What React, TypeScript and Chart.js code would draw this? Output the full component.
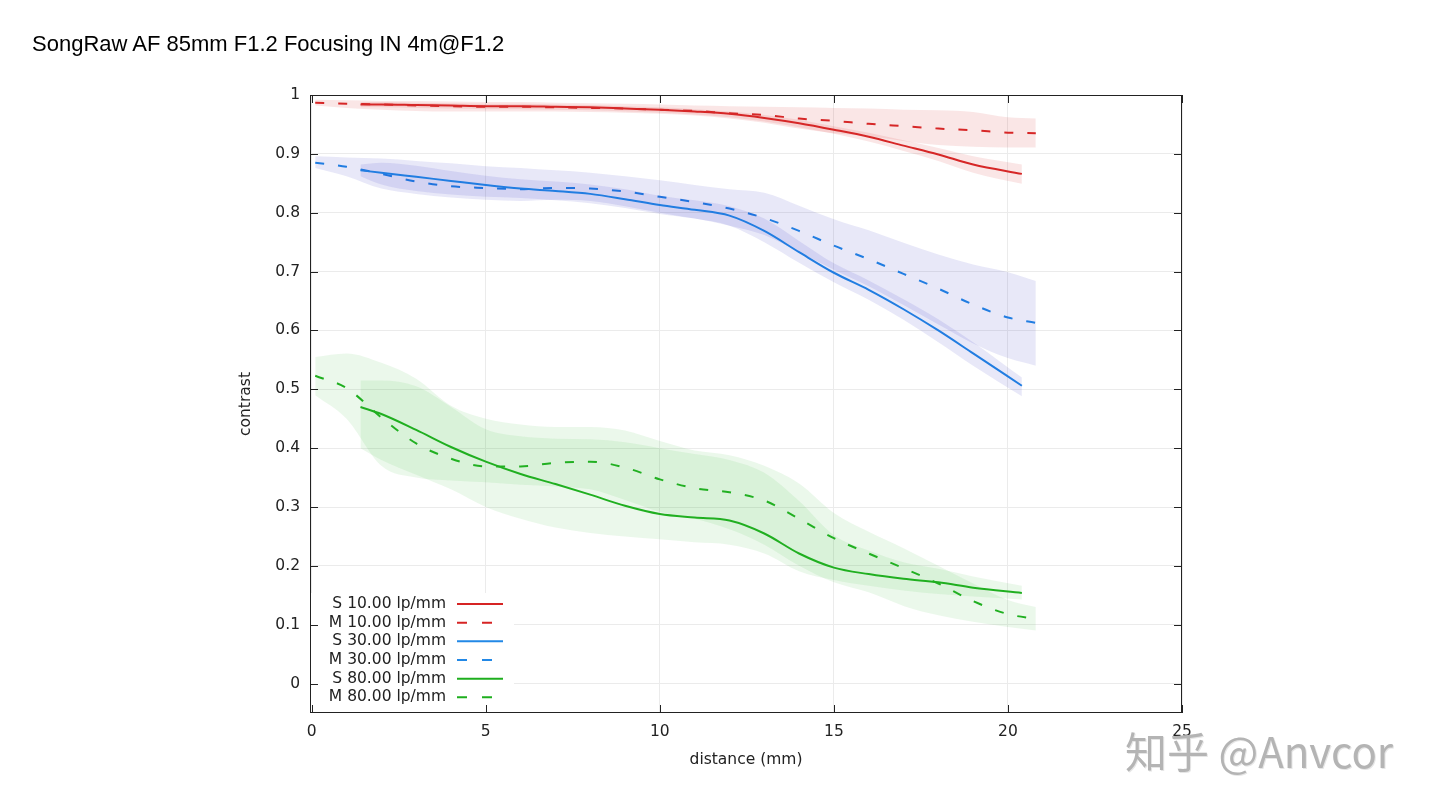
import { useEffect, useRef } from 'react';
import { Chart, registerables } from 'chart.js';

Chart.register(...registerables);

const TITLE = 'SongRaw AF 85mm F1.2 Focusing IN 4m@F1.2';
const X_TITLE = 'distance (mm)';
const Y_TITLE = 'contrast';

const xTicks = [0, 5, 10, 15, 20, 25];
const yTicks = [0, 0.1, 0.2, 0.3, 0.4, 0.5, 0.6, 0.7, 0.8, 0.9, 1];

// sagittal series sample positions (mm)
const sX = [1.4, 2, 3, 4, 5, 6, 7, 8, 9, 10, 11, 12, 13, 14, 15, 16, 17, 18, 19, 20.4];
// meridional series sample positions (mm)
const mX = [0.1, 1, 2, 3, 4, 5, 6, 7, 8, 9, 10, 11, 12, 13, 14, 15, 16, 17, 18, 19, 20, 20.8];

// 10 lp/mm
const s10 = [0.984, 0.984, 0.983, 0.982, 0.981, 0.981, 0.980, 0.979, 0.977, 0.975, 0.972, 0.968, 0.961, 0.952, 0.941, 0.929, 0.914, 0.899, 0.882, 0.866];
const s10Hi = [0.988, 0.988, 0.987, 0.986, 0.985, 0.985, 0.984, 0.983, 0.981, 0.979, 0.976, 0.972, 0.966, 0.958, 0.947, 0.936, 0.923, 0.910, 0.896, 0.882];
const s10Lo = [0.979, 0.979, 0.978, 0.977, 0.976, 0.976, 0.975, 0.974, 0.972, 0.970, 0.967, 0.962, 0.955, 0.945, 0.934, 0.921, 0.905, 0.888, 0.868, 0.849];
const m10 = [0.987, 0.985, 0.984, 0.982, 0.981, 0.980, 0.980, 0.979, 0.978, 0.977, 0.975, 0.973, 0.969, 0.966, 0.960, 0.956, 0.951, 0.947, 0.943, 0.940, 0.936, 0.935];
const m10Hi = [0.992, 0.991, 0.990, 0.990, 0.989, 0.988, 0.988, 0.987, 0.986, 0.985, 0.984, 0.982, 0.981, 0.980, 0.979, 0.978, 0.977, 0.975, 0.974, 0.971, 0.962, 0.960];
const m10Lo = [0.982, 0.978, 0.975, 0.973, 0.972, 0.972, 0.972, 0.972, 0.971, 0.970, 0.968, 0.965, 0.960, 0.953, 0.943, 0.935, 0.930, 0.922, 0.915, 0.912, 0.911, 0.911];

// 30 lp/mm
const s30 = [0.872, 0.868, 0.861, 0.854, 0.847, 0.841, 0.837, 0.832, 0.823, 0.813, 0.805, 0.795, 0.769, 0.733, 0.698, 0.669, 0.636, 0.600, 0.561, 0.506];
const s30Hi = [0.882, 0.885, 0.880, 0.871, 0.863, 0.857, 0.853, 0.848, 0.840, 0.829, 0.821, 0.811, 0.790, 0.752, 0.714, 0.685, 0.653, 0.619, 0.580, 0.520];
const s30Lo = [0.862, 0.848, 0.837, 0.831, 0.827, 0.825, 0.821, 0.816, 0.808, 0.798, 0.790, 0.778, 0.750, 0.715, 0.682, 0.652, 0.618, 0.580, 0.540, 0.488];
const m30 = [0.885, 0.878, 0.866, 0.853, 0.845, 0.842, 0.840, 0.842, 0.841, 0.836, 0.827, 0.818, 0.807, 0.791, 0.769, 0.744, 0.721, 0.696, 0.671, 0.644, 0.622, 0.613];
const m30Hi = [0.896, 0.894, 0.892, 0.888, 0.884, 0.879, 0.876, 0.872, 0.868, 0.862, 0.855, 0.847, 0.840, 0.834, 0.812, 0.789, 0.770, 0.749, 0.729, 0.712, 0.699, 0.684];
const m30Lo = [0.876, 0.862, 0.841, 0.832, 0.826, 0.822, 0.820, 0.822, 0.820, 0.811, 0.800, 0.790, 0.778, 0.762, 0.733, 0.703, 0.675, 0.643, 0.610, 0.578, 0.553, 0.540];

// 80 lp/mm
const s80 = [0.470, 0.458, 0.431, 0.402, 0.377, 0.356, 0.339, 0.321, 0.302, 0.288, 0.282, 0.277, 0.255, 0.221, 0.197, 0.186, 0.178, 0.172, 0.163, 0.154];
const s80Hi = [0.515, 0.515, 0.505, 0.470, 0.432, 0.420, 0.416, 0.415, 0.410, 0.400, 0.390, 0.380, 0.358, 0.310, 0.252, 0.226, 0.206, 0.195, 0.182, 0.166];
const s80Lo = [0.400, 0.380, 0.355, 0.330, 0.300, 0.280, 0.265, 0.256, 0.250, 0.245, 0.240, 0.236, 0.221, 0.191, 0.176, 0.166, 0.158, 0.152, 0.148, 0.143];
const m80 = [0.523, 0.502, 0.452, 0.408, 0.382, 0.369, 0.369, 0.375, 0.377, 0.367, 0.347, 0.332, 0.325, 0.311, 0.280, 0.247, 0.221, 0.196, 0.170, 0.140, 0.118, 0.110];
const m80Hi = [0.555, 0.561, 0.545, 0.518, 0.472, 0.450, 0.440, 0.436, 0.436, 0.430, 0.412, 0.396, 0.388, 0.370, 0.340, 0.290, 0.258, 0.230, 0.200, 0.170, 0.142, 0.130];
const m80Lo = [0.490, 0.450, 0.370, 0.350, 0.345, 0.342, 0.338, 0.335, 0.330, 0.312, 0.292, 0.280, 0.262, 0.236, 0.200, 0.172, 0.155, 0.132, 0.116, 0.105, 0.096, 0.090];

const RED = '#d62424';
const BLUE = '#2288e6';
const GREEN = '#1eae1e';
const RED_BAND = 'rgba(215, 62, 62, 0.13)';
const BLUE_BAND = 'rgba(25, 25, 185, 0.1)';
const GREEN_BAND = 'rgba(55, 185, 55, 0.1)';

const FONT = { family: '"DejaVu Sans", Verdana, sans-serif', size: 15.5 };
const TEXT = '#222';

interface Series {
  label: string;
  color: string;
  band: string;
  dashed: boolean;
  xs: number[];
  ys: number[];
  lo: number[];
  hi: number[];
}

const series: Series[] = [
  { label: 'S 10.00 lp/mm', color: RED, band: RED_BAND, dashed: false, xs: sX, ys: s10, lo: s10Lo, hi: s10Hi },
  { label: 'M 10.00 lp/mm', color: RED, band: RED_BAND, dashed: true, xs: mX, ys: m10, lo: m10Lo, hi: m10Hi },
  { label: 'S 30.00 lp/mm', color: BLUE, band: BLUE_BAND, dashed: false, xs: sX, ys: s30, lo: s30Lo, hi: s30Hi },
  { label: 'M 30.00 lp/mm', color: BLUE, band: BLUE_BAND, dashed: true, xs: mX, ys: m30, lo: m30Lo, hi: m30Hi },
  { label: 'S 80.00 lp/mm', color: GREEN, band: GREEN_BAND, dashed: false, xs: sX, ys: s80, lo: s80Lo, hi: s80Hi },
  { label: 'M 80.00 lp/mm', color: GREEN, band: GREEN_BAND, dashed: true, xs: mX, ys: m80, lo: m80Lo, hi: m80Hi },
];

const DASH = [9, 14];

const pts = (xs: number[], ys: number[]) => xs.map((x, i) => ({ x, y: ys[i] }));

// legend box, frame and inward tick marks, drawn over the plot
const framePlugin = {
  id: 'frame',
  afterDatasetsDraw(chart: Chart) {
    const { ctx, chartArea: a, scales } = chart;
    const sx = scales.x;
    const sy = scales.y;
    ctx.save();

    ctx.fillStyle = '#fff';
    ctx.fillRect(a.left + 1, a.bottom - 120, 203, 119);
    ctx.font = `${FONT.size}px ${FONT.family}`;
    ctx.textAlign = 'right';
    ctx.textBaseline = 'middle';
    series.forEach((s, i) => {
      const ly = a.bottom - 109 + i * 18.66;
      ctx.fillStyle = TEXT;
      ctx.fillText(s.label, a.left + 136, ly);
      ctx.strokeStyle = s.color;
      ctx.lineWidth = 2;
      ctx.setLineDash(s.dashed ? [10, 15] : []);
      ctx.beginPath();
      ctx.moveTo(a.left + 147, ly);
      ctx.lineTo(a.left + 193, ly);
      ctx.stroke();
    });
    ctx.setLineDash([]);

    ctx.strokeStyle = '#222';
    ctx.lineWidth = 1;
    ctx.beginPath();
    xTicks.forEach((v) => {
      const px = Math.round(sx.getPixelForValue(v)) + 0.5;
      ctx.moveTo(px, a.bottom);
      ctx.lineTo(px, a.bottom - 8);
      ctx.moveTo(px, a.top);
      ctx.lineTo(px, a.top + 8);
    });
    yTicks.forEach((v) => {
      const py = Math.round(sy.getPixelForValue(v)) + 0.5;
      ctx.moveTo(a.left, py);
      ctx.lineTo(a.left + 8, py);
      ctx.moveTo(a.right, py);
      ctx.lineTo(a.right - 8, py);
    });
    ctx.stroke();
    ctx.strokeRect(a.left + 0.5, a.top + 0.5, a.right - a.left - 1, a.bottom - a.top - 1);
    ctx.restore();
  },
};

function MtfChart() {
  const canvasRef = useRef<HTMLCanvasElement>(null);
  const chartRef = useRef<Chart | null>(null);

  useEffect(() => {
    if (!canvasRef.current) return;
    if (chartRef.current) { chartRef.current.destroy(); chartRef.current = null; }

    const datasets: any[] = [];
    series.forEach((s) => {
      datasets.push({
        label: s.label + ' lo',
        data: pts(s.xs, s.lo),
        borderWidth: 0,
        pointRadius: 0,
        fill: false,
        cubicInterpolationMode: 'monotone',
      });
      datasets.push({
        label: s.label + ' hi',
        data: pts(s.xs, s.hi),
        borderWidth: 0,
        pointRadius: 0,
        backgroundColor: s.band,
        fill: '-1',
        cubicInterpolationMode: 'monotone',
      });
      datasets.push({
        label: s.label,
        data: pts(s.xs, s.ys),
        borderColor: s.color,
        borderWidth: 2,
        borderDash: s.dashed ? DASH : [],
        pointRadius: 0,
        fill: false,
        cubicInterpolationMode: 'monotone',
      });
    });

    chartRef.current = new Chart(canvasRef.current, {
      type: 'line',
      data: { datasets },
      options: {
        animation: false,
        responsive: true,
        maintainAspectRatio: false,
        layout: { padding: { left: 232, top: 95, right: 258, bottom: 37 } },
        plugins: {
          legend: { display: false },
          tooltip: { enabled: false },
        },
        scales: {
          x: {
            type: 'linear',
            min: -0.05,
            max: 25,
            afterBuildTicks: (s: any) => { s.ticks = xTicks.map((value) => ({ value })); },
            afterFit: (s: any) => { s.height = 60; },
            grid: { color: '#ebebeb', drawTicks: false },
            border: { display: false },
            ticks: {
              padding: 10,
              color: TEXT,
              font: FONT,
              autoSkip: false,
              maxRotation: 0,
              callback: (v: any) => String(v),
            },
            title: { display: true, text: X_TITLE, color: TEXT, font: FONT, padding: { top: 0, bottom: 4 } },
          },
          y: {
            type: 'linear',
            min: -0.05,
            max: 1,
            afterBuildTicks: (s: any) => { s.ticks = yTicks.map((value) => ({ value })); },
            afterFit: (s: any) => { s.width = 78; },
            grid: { color: '#ebebeb', drawTicks: false },
            border: { display: false },
            ticks: {
              padding: 10,
              color: TEXT,
              font: FONT,
              autoSkip: false,
              callback: (v: any) => String(Math.round(Number(v) * 10) / 10),
            },
            title: { display: true, text: Y_TITLE, color: TEXT, font: FONT, padding: { top: 5, bottom: 0 } },
          },
        },
      },
      plugins: [framePlugin],
    });

    return () => { chartRef.current?.destroy(); chartRef.current = null; };
  }, []);

  return <canvas ref={canvasRef} />;
}

export default function App() {
  return (
    <div style={{ position: 'absolute', left: 0, top: 0, width: 1440, height: 810, background: '#fff', overflow: 'hidden' }}>
      <div style={{ position: 'absolute', left: 0, top: 0, width: 1440, height: 810 }}>
        <MtfChart />
      </div>
      <div
        style={{
          position: 'absolute', left: 32, top: 31, fontFamily: '"Liberation Sans", Arial, sans-serif',
          fontSize: 22, lineHeight: '26px', color: '#000', whiteSpace: 'nowrap',
        }}
      >
        {TITLE}
      </div>
      <div
        style={{
          position: 'absolute', left: 1125, top: 722, fontFamily: '"Noto Sans CJK SC", "Noto Sans", sans-serif',
          fontSize: 42, lineHeight: '56px', color: '#b4b4b4', whiteSpace: 'nowrap',
          textShadow: '1px 1px 0 #e6e6e6',
        }}
      >
        知乎 @Anvcor
      </div>
    </div>
  );
}
